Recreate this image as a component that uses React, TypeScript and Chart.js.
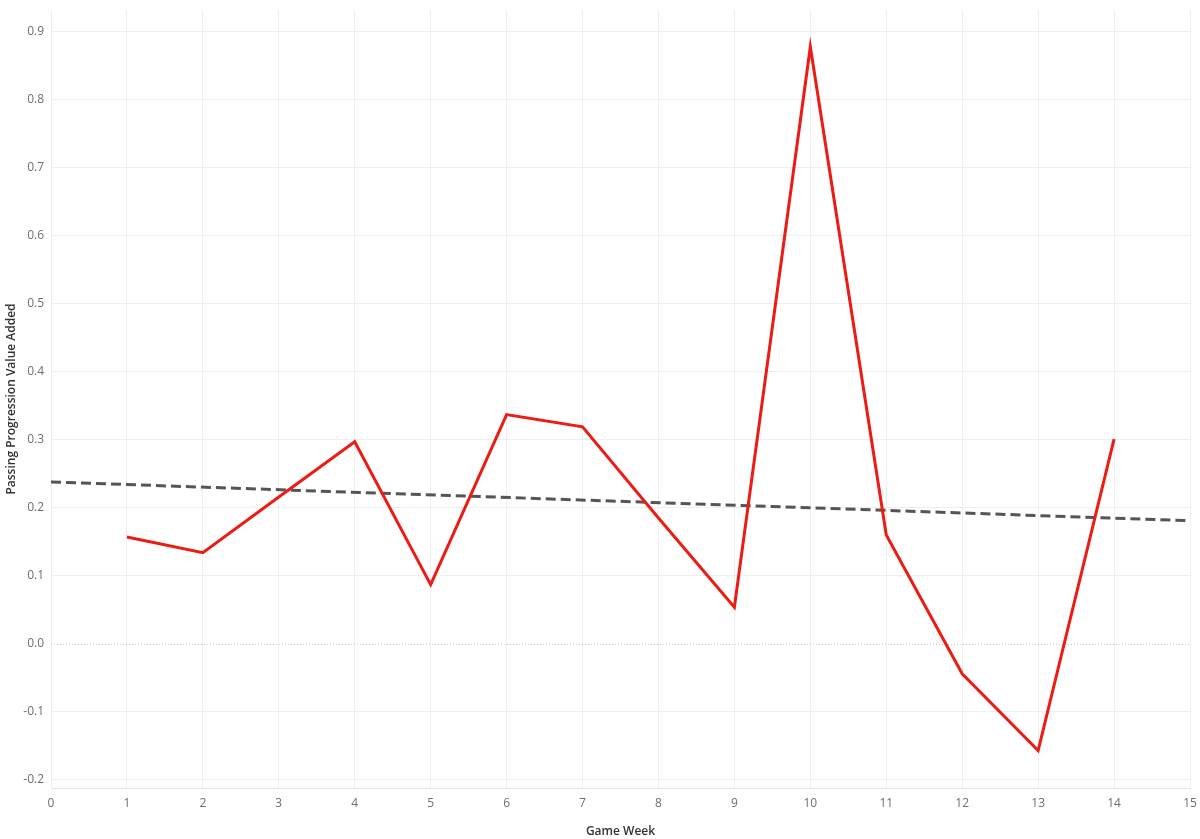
import React, { useEffect, useRef } from "react";
import { Chart, registerables } from "chart.js";

Chart.register(...registerables);

const weeks = [1, 2, 3, 4, 5, 6, 7, 8, 9, 10, 11, 12, 13, 14];
const ppva = [0.157, 0.134, 0.216, 0.297, 0.087, 0.337, 0.319, 0.185, 0.054, 0.878, 0.16, -0.044, -0.157, 0.301];
const trendX = [0, 15];
const trendY = [0.238, 0.181];
const yTicks = [-0.2, -0.1, 0, 0.1, 0.2, 0.3, 0.4, 0.5, 0.6, 0.7, 0.8, 0.9];
const xTicks = [0, 1, 2, 3, 4, 5, 6, 7, 8, 9, 10, 11, 12, 13, 14, 15];

const FONT = "'Open Sans', 'DejaVu Sans', sans-serif";

const zeroLinePlugin = {
  id: "zeroLine",
  beforeDatasetsDraw(chart: any) {
    const { ctx, chartArea, scales } = chart;
    const y = Math.round(scales.y.getPixelForValue(0)) + 0.5;
    ctx.save();
    ctx.strokeStyle = "#c8c8c8";
    ctx.lineWidth = 1;
    ctx.setLineDash([1, 2]);
    ctx.beginPath();
    ctx.moveTo(chartArea.left, y);
    ctx.lineTo(chartArea.right, y);
    ctx.stroke();
    ctx.restore();
  },
};

export default function App() {
  const ref = useRef<HTMLCanvasElement>(null);
  useEffect(() => {
    document.body.style.margin = "0";
    const chart = new Chart(ref.current!, {
      type: "line",
      data: {
        datasets: [
          {
            label: "Passing Progression Value Added",
            data: weeks.map((w, i) => ({ x: w, y: ppva[i] })),
            borderColor: "#ec1c14",
            borderWidth: 3,
            pointRadius: 0,
            tension: 0,
            order: 1,
          },
          {
            label: "Trend",
            data: trendX.map((x, i) => ({ x, y: trendY[i] })),
            borderColor: "#555555",
            borderWidth: 3,
            borderDash: [10, 5],
            pointRadius: 0,
            order: 2,
          },
        ],
      },
      options: {
        animation: false,
        responsive: false,
        layout: { padding: { top: 10, right: 10, left: 0, bottom: 0 } },
        plugins: { legend: { display: false }, tooltip: { enabled: false } },
        scales: {
          x: {
            type: "linear",
            min: 0,
            max: 15,
            afterBuildTicks: (s: any) => {
              s.ticks = xTicks.map((v) => ({ value: v }));
            },
            afterFit: (s: any) => {
              s.height = 51;
              s.paddingLeft = 0;
              s.paddingRight = 0;
            },
            grid: { color: "#eeeeee", drawTicks: false },
            border: { color: "#e6e6e6" },
            ticks: {
              padding: 8,
              color: "#6e6e6e",
              font: { family: FONT, size: 12 },
              maxRotation: 0,
              callback: (v: any) => String(v),
            },
            title: {
              display: true,
              text: "Game Week",
              color: "#333333",
              font: { family: FONT, size: 12, weight: "600" },
              padding: { top: 3, bottom: 0 },
            },
          },
          y: {
            type: "linear",
            min: -0.212,
            max: 0.932,
            afterBuildTicks: (s: any) => {
              s.ticks = yTicks.map((v) => ({ value: v }));
            },
            afterFit: (s: any) => {
              s.width = 51;
              s.paddingTop = 0;
              s.paddingBottom = 0;
            },
            grid: {
              color: (c: any) => (c.tick && Math.abs(c.tick.value) < 1e-9 ? "rgba(0,0,0,0)" : "#eeeeee"),
              drawTicks: false,
            },
            border: { color: "#eeeeee" },
            ticks: {
              padding: 7,
              color: "#6e6e6e",
              font: { family: FONT, size: 12 },
              callback: (v: any) => Number(v).toFixed(1),
            },
            title: {
              display: true,
              text: "Passing Progression Value Added",
              color: "#333333",
              font: { family: FONT, size: 12, weight: "600" },
              padding: { top: 4, bottom: 0 },
            },
          },
        },
      },
      plugins: [zeroLinePlugin],
    } as any);
    return () => chart.destroy();
  }, []);
  return <canvas ref={ref} width={1200} height={839} style={{ display: "block" }} />;
}
